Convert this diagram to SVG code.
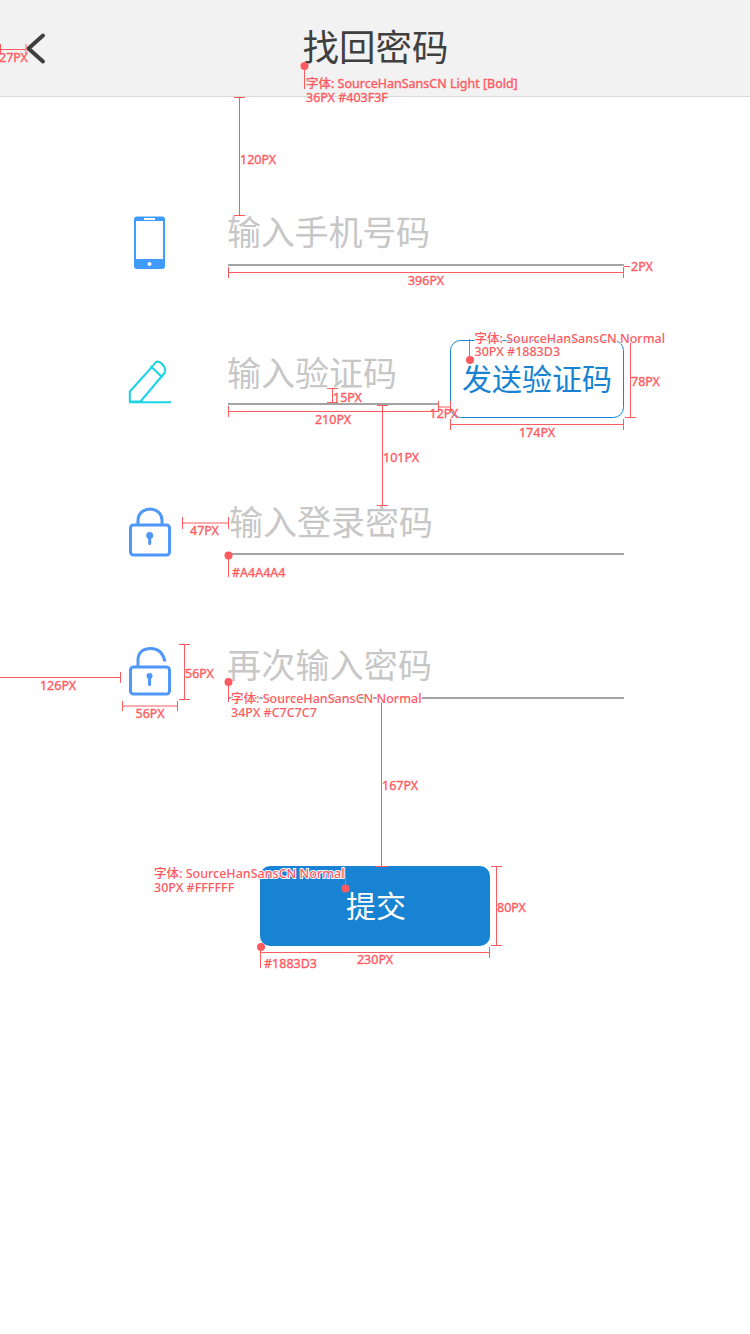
<svg xmlns="http://www.w3.org/2000/svg" width="750" height="1334" viewBox="0 0 750 1334">
<style>
.cn{font-family:"Noto Sans CJK SC","Noto Sans",sans-serif;font-weight:400}
.ph{font-size:34px;fill:#C7C7C7}
.ln{fill:none;stroke:#A4A4A4;stroke-width:2}
.m{fill:none;stroke:#FF5A5F;stroke-width:1}
.d{fill:#FF5A5F}
.t{font-family:"Noto Sans","Noto Sans CJK SC",sans-serif;font-size:12.500px;fill:#FF5A5F;stroke:#FF5A5F;stroke-width:.35}
.h{paint-order:stroke;stroke:#fff;stroke-width:2;stroke-linejoin:round;font-weight:500}
.mid{text-anchor:middle}
.ic{fill:none;stroke:#4F98F7;stroke-width:3}
.key{fill:#4F98F7}
</style>
<rect width="750" height="1334" fill="#fff"/>
<g id="header">
<rect width="750" height="96" fill="#F2F2F2"/>
<rect y="96" width="750" height="1" fill="#D9D9D9"/>
<path d="M43 35.500L28.500 48.500L43 61.500" fill="none" stroke="#403F3F" stroke-width="4" stroke-linecap="round" stroke-linejoin="round"/>
<text x="375.500" y="61" font-family="Noto Sans CJK SC, sans-serif" font-size="36.500" fill="#403F3F" text-anchor="middle">找回密码</text>
</g>
<g id="phone-row">
<rect x="134" y="216.500" width="31" height="52.500" rx="3" fill="#3F9BFF"/>
<rect x="136" y="221" width="27" height="38" fill="#fff"/>
<rect x="144" y="218" width="11" height="2" fill="#fff"/>
<circle cx="149.500" cy="264" r="2" fill="#fff"/>
<text class="cn ph" x="227" y="245" textLength="203">输入手机号码</text>
<path class="ln" d="M228 265H624"/>
</g>
<g id="code-row">
<path d="M129 402.300H171M129.800 401.500V391.500L152 367L155.500 362.500Q158 360.500 161 363L164.500 367Q166 370 164.500 373L161.500 376.500L140.500 401.500ZM150.500 366L162.500 377.500" fill="none" stroke="#1AD3E3" stroke-width="2" stroke-linejoin="round"/>
<text class="cn ph" x="227" y="386" textLength="170">输入验证码</text>
<path class="ln" d="M228 404H438"/>
</g>
<g id="send-button">
<rect x="450.500" y="340.500" width="173" height="77" rx="10" fill="#fff" stroke="#1883D3"/>
<text class="cn" x="537" y="390" font-size="30" fill="#1883D3" text-anchor="middle">发送验证码</text>
</g>
<g id="password-row">
<rect class="ic" x="130.500" y="525" width="39" height="30" rx="3"/>
<path class="ic" d="M138 525V520A12 11 0 0 1 162 520V525"/>
<circle class="key" cx="149.700" cy="535.500" r="3.500"/>
<rect class="key" x="148.200" y="536" width="3" height="9" rx="1.500"/>
<text class="cn ph" x="229" y="535" textLength="204">输入登录密码</text>
<path class="ln" d="M228 554H624"/>
</g>
<g id="confirm-row">
<rect class="ic" x="130.500" y="667" width="39" height="27" rx="3"/>
<path class="ic" d="M138 667V660C138 652.500 143 648.500 151 648.500C158 648.500 163 653 165 661.500"/>
<circle class="key" cx="149.500" cy="676" r="3"/>
<rect class="key" x="148" y="676" width="3" height="10" rx="1.500"/>
<text class="cn ph" x="227" y="678" textLength="205">再次输入密码</text>
<path class="ln" d="M228 698H624"/>
</g>
<g id="submit-button">
<rect x="260" y="866" width="230" height="80" rx="10" fill="#1883D3"/>
<text class="cn" x="376" y="917" font-size="30" fill="#fff" text-anchor="middle">提交</text>
</g>
<g id="connectors">
<path class="m" d="M0 49.500H26M.5 44V54M26 44V54"/>
<path class="m" d="M239.500 97V215M234 97.500H245M234 215.500H245"/>
<path class="m" d="M228.500 272.500H623.500M228.500 267V278M623.500 267V278"/>
<path class="m" d="M624 266.500H630"/>
<path class="m" d="M332.500 389V402M327 388.500H338M327 402.500H338"/>
<path class="m" d="M228.500 411.500H438M228.500 406V417"/>
<path class="m" d="M382.500 405.500V505.500M377 405.500H388M377 505.500H388"/>
<path class="m" d="M438.500 407H450M438.500 401V412M450.500 401V412"/>
<path class="m" d="M450.500 424.500H623.500M450.500 419V430M623.500 419V430"/>
<path class="m" d="M630.500 341V417M625 417.500H636"/>
<path class="m" d="M182.500 523H228.500M182.500 517V529M228.500 517V529"/>
<path class="m" d="M0 677.500H120.500M120.500 672V683"/>
<path class="m" d="M184.500 644.500V699.500M179 644.500H190M179 699.500H190"/>
<path class="m" d="M122.500 706H177.500M122.500 701V711M177.500 701V711"/>
<path class="m" d="M381.500 699V866.500M376 866.500H387"/>
<path class="m" d="M496.500 866.500V945.500M491 866.500H502M491 945.500H502"/>
<path class="m" d="M261 952.500H489.500M489.500 947V958"/>
<circle class="d" cx="304.500" cy="66" r="4"/><path class="m" d="M304.500 66V89"/>
<circle class="d" cx="470" cy="360" r="4"/><path class="m" d="M469.500 339V360"/>
<circle class="d" cx="228.500" cy="555.500" r="4"/><path class="m" d="M228.500 556V577"/>
<circle class="d" cx="228.500" cy="682" r="4"/><path class="m" d="M228.500 682V702"/>
<circle class="d" cx="345.500" cy="888.500" r="4"/><path class="m" d="M345.500 867V888"/>
<circle class="d" cx="261" cy="947" r="4"/><path class="m" d="M260.500 947V968"/>
</g>
<g id="annotations">
<text class="t" x="-1" y="61.500">27PX</text>
<text class="t" x="306" y="88">字体: SourceHanSansCN Light [Bold]</text>
<text class="t" x="306" y="101.500">36PX #403F3F</text>
<text class="t" x="240" y="163.500">120PX</text>
<text class="t mid" x="426" y="284.500">396PX</text>
<text class="t" x="631" y="271">2PX</text>
<text class="t h" x="474.500" y="343">字体: SourceHanSansCN Normal</text>
<text class="t h" x="474.500" y="356">30PX #1883D3</text>
<text class="t" x="333" y="402">15PX</text>
<text class="t mid" x="333" y="423.500">210PX</text>
<text class="t" x="383" y="462">101PX</text>
<text class="t" x="429.500" y="418">12PX</text>
<text class="t mid" x="537" y="436.500">174PX</text>
<text class="t" x="631" y="385.500">78PX</text>
<text class="t" x="190" y="535">47PX</text>
<text class="t" x="232" y="577">#A4A4A4</text>
<text class="t mid" x="58" y="689.500">126PX</text>
<text class="t" x="185" y="678">56PX</text>
<text class="t mid" x="150" y="718">56PX</text>
<text class="t h" x="231" y="703">字体: SourceHanSansCN Normal</text>
<text class="t h" x="231" y="717">34PX #C7C7C7</text>
<text class="t" x="382" y="789.500">167PX</text>
<text class="t h" x="154" y="878">字体: SourceHanSansCN Normal</text>
<text class="t h" x="154" y="892">30PX #FFFFFF</text>
<text class="t" x="497" y="912">80PX</text>
<text class="t mid" x="375" y="964">230PX</text>
<text class="t" x="264" y="968">#1883D3</text>
</g>
</svg>
